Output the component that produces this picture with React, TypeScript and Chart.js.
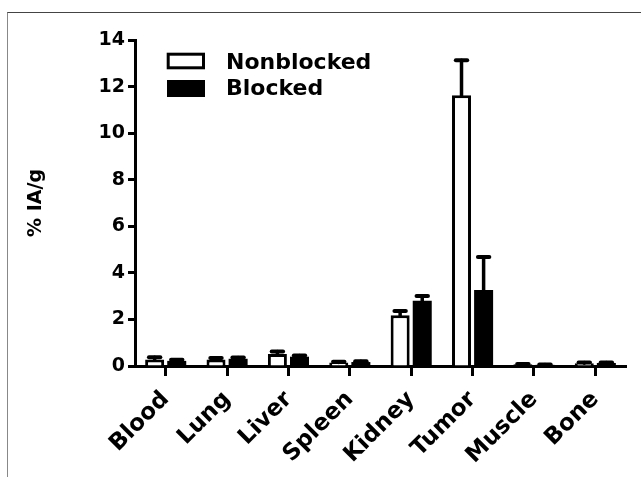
import React, { useEffect, useRef } from 'react';
import { Chart, registerables } from 'chart.js';

Chart.register(...registerables);

const categories = ['Blood', 'Lung', 'Liver', 'Spleen', 'Kidney', 'Tumor', 'Muscle', 'Bone'];
const nonblocked = [0.28, 0.28, 0.52, 0.15, 2.18, 11.63, 0.07, 0.12];
const nonblockedErr = [0.1, 0.06, 0.1, 0.03, 0.18, 1.5, 0.02, 0.03];
const blocked = [0.22, 0.31, 0.4, 0.17, 2.8, 3.26, 0.05, 0.13];
const blockedErr = [0.05, 0.05, 0.05, 0.03, 0.21, 1.42, 0.01, 0.02];
const yTicks = [0, 2, 4, 6, 8, 10, 12, 14];

const FONT = "'DejaVu Sans', sans-serif";

const errorBarPlugin = {
  id: 'errorBars',
  afterDatasetsDraw(chart: any) {
    const ctx = chart.ctx;
    const yScale = chart.scales.y;
    const errs = [nonblockedErr, blockedErr];
    ctx.save();
    ctx.strokeStyle = '#000';
    ctx.lineCap = 'round';
    chart.data.datasets.forEach((ds: any, di: number) => {
      const meta = chart.getDatasetMeta(di);
      meta.data.forEach((bar: any, i: number) => {
        const v = ds.data[i];
        const e = errs[di][i];
        const x = bar.x;
        const yBase = yScale.getPixelForValue(v);
        const yTop = yScale.getPixelForValue(v + e);
        const half = bar.width * 0.3;
        ctx.lineWidth = 3.5;
        ctx.beginPath();
        ctx.moveTo(x, yBase);
        ctx.lineTo(x, yTop);
        ctx.stroke();
        ctx.lineWidth = 4;
        ctx.beginPath();
        ctx.moveTo(x - half, yTop);
        ctx.lineTo(x + half, yTop);
        ctx.stroke();
      });
    });
    ctx.restore();
  },
};

const legendPlugin = {
  id: 'insideLegend',
  afterDraw(chart: any) {
    const ctx = chart.ctx;
    const ds = chart.data.datasets;
    ctx.save();
    ctx.fillStyle = '#fff';
    ctx.fillRect(168.2, 54.2, 35.3, 13.6);
    ctx.lineWidth = 3;
    ctx.strokeStyle = '#000';
    ctx.strokeRect(168.2, 54.2, 35.3, 13.6);
    ctx.fillStyle = '#000';
    ctx.fillRect(167, 80, 38, 17);
    ctx.font = `bold 22px ${FONT}`;
    ctx.textBaseline = 'alphabetic';
    ctx.textAlign = 'left';
    ctx.fillText(ds[0].label, 226, 68.5);
    ctx.fillText(ds[1].label, 226, 95);
    ctx.restore();
  },
};

export default function App() {
  const ref = useRef<HTMLCanvasElement>(null);

  useEffect(() => {
    if (!ref.current) return;
    const chart = new Chart(ref.current, {
      type: 'bar',
      data: {
        labels: categories,
        datasets: [
          {
            label: 'Nonblocked',
            data: nonblocked,
            backgroundColor: '#fff',
            borderColor: '#000',
            borderWidth: 3,
            borderSkipped: 'start',
            barPercentage: 0.86,
            categoryPercentage: 0.72,
          },
          {
            label: 'Blocked',
            data: blocked,
            backgroundColor: '#000',
            borderColor: '#000',
            borderWidth: 0,
            barPercentage: 0.86,
            categoryPercentage: 0.72,
          },
        ],
      },
      options: {
        responsive: false,
        animation: false,
        devicePixelRatio: 1,
        layout: { padding: { left: 0, top: 40, right: 15, bottom: 0 } },
        plugins: {
          legend: { display: false },
          tooltip: { enabled: false },
          title: { display: false },
        },
        scales: {
          x: {
            type: 'category',
            offset: true,
            grid: {
              display: true,
              drawOnChartArea: false,
              drawTicks: true,
              tickLength: 10,
              tickWidth: 3,
              tickColor: '#000',
              offset: false,
            },
            border: { display: true, width: 3, color: '#000' },
            ticks: {
              color: '#000',
              font: { family: FONT, size: 23, weight: 'bold' },
              minRotation: 45,
              maxRotation: 45,
              padding: 10,
              autoSkip: false,
            },
            afterFit: (s: any) => {
              s.height = 111;
            },
          },
          y: {
            min: 0,
            max: 14,
            afterBuildTicks: (s: any) => {
              s.ticks = yTicks.map((v) => ({ value: v }));
            },
            ticks: {
              color: '#000',
              font: { family: FONT, size: 19, weight: 'bold' },
              padding: 3,
            },
            grid: {
              display: true,
              drawOnChartArea: false,
              drawTicks: true,
              tickLength: 7,
              tickWidth: 3,
              tickColor: '#000',
            },
            border: { display: true, width: 3, color: '#000' },
            title: {
              display: true,
              text: '% IA/g',
              color: '#000',
              font: { family: FONT, size: 19, weight: 'bold' },
              padding: { top: 25, bottom: 0 },
            },
            afterFit: (s: any) => {
              s.width = 135;
            },
          },
        },
      },
      plugins: [errorBarPlugin, legendPlugin],
    });
    return () => chart.destroy();
  }, []);

  return (
    <div
      style={{
        position: 'fixed',
        left: 0,
        top: 0,
        width: 641,
        height: 477,
        background: '#fff',
        overflow: 'hidden',
      }}
    >
      <div
        style={{
          position: 'absolute',
          left: 7,
          top: 12,
          width: 700,
          height: 500,
          borderTop: '1px solid #444',
          borderLeft: '1px solid #888',
        }}
      />
      <canvas ref={ref} width={641} height={477} style={{ position: 'absolute', left: 0, top: 0 }} />
    </div>
  );
}
